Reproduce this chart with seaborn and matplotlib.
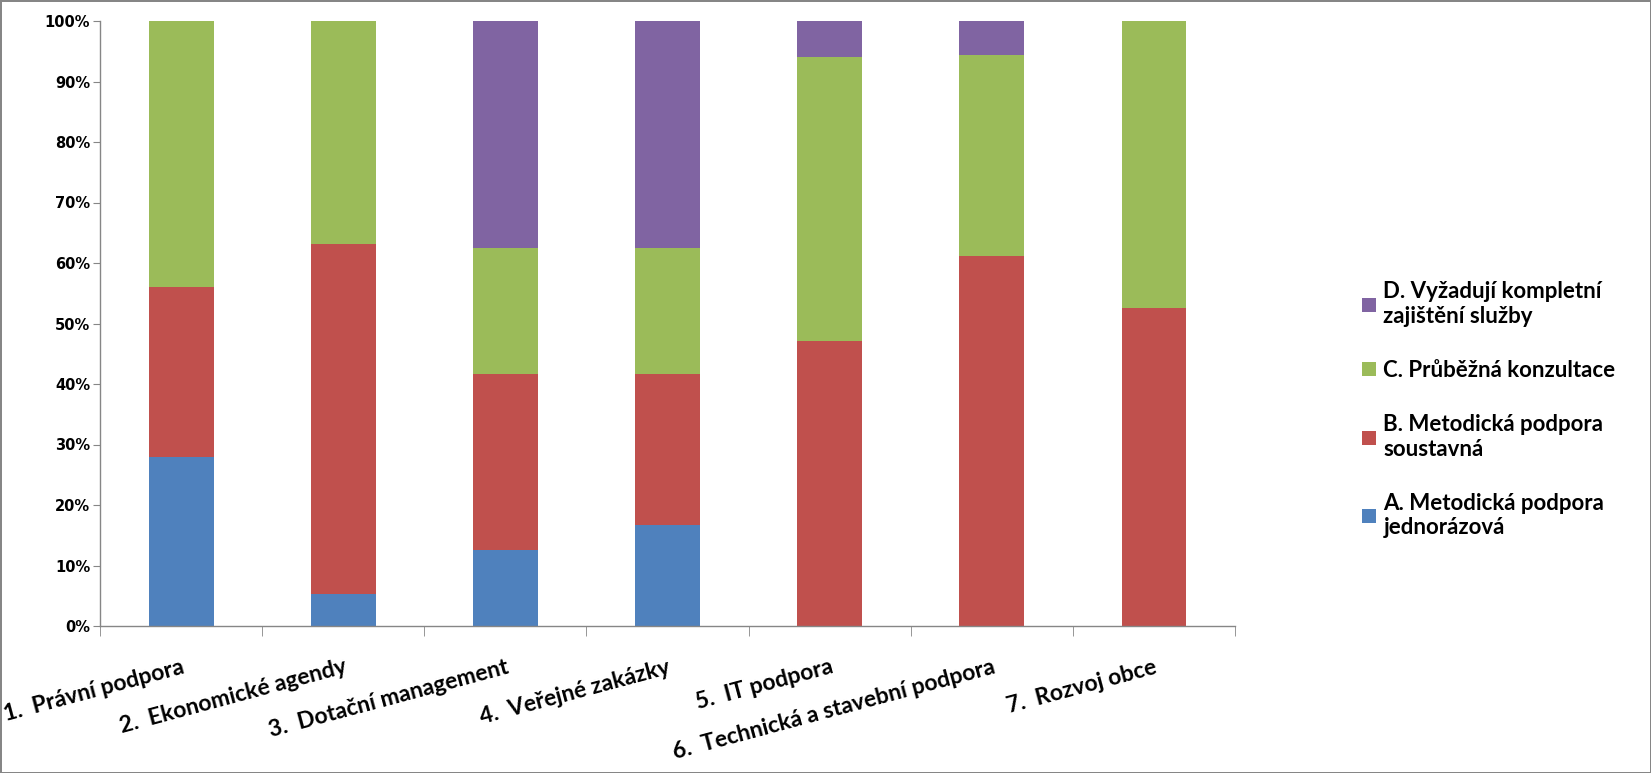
import numpy as np
import pandas as pd
import matplotlib
matplotlib.use("Agg")
import matplotlib.pyplot as plt
from matplotlib.patches import Patch
import seaborn as sns

# Data (shares in %)
categories = ['1.  Právní podpora', '2.  Ekonomické agendy', '3.  Dotační management',
              '4.  Veřejné zakázky', '5.  IT podpora', '6.  Technická a stavební podpora',
              '7.  Rozvoj obce']
a_jednorazova = [28.0, 5.3, 12.5, 16.7, 0.0, 0.0, 0.0]
b_soustavna = [28.0, 57.9, 29.2, 25.0, 47.1, 61.1, 52.6]
c_konzultace = [44.0, 36.8, 20.8, 20.8, 47.0, 33.3, 47.4]
d_kompletni = [0.0, 0.0, 37.5, 37.5, 5.9, 5.6, 0.0]

series_names = ['A. Metodická podpora\njednorázová', 'B. Metodická podpora\nsoustavná',
                'C. Průběžná konzultace', 'D. Vyžadují kompletní\nzajištění služby']
series_colors = ['#4F81BD', '#C0504D', '#9BBB59', '#8064A2']
y_ticks = [0, 10, 20, 30, 40, 50, 60, 70, 80, 90, 100]

# Stack the series: draw cumulative totals from the top down
stack = np.array([a_jednorazova, b_soustavna, c_konzultace, d_kompletni])
cum = stack.cumsum(axis=0)
df = pd.DataFrame({'kategorie': categories})

fig = plt.figure(figsize=(16.51, 7.73), dpi=100)
ax = fig.add_axes([100 / 1651, 1 - 626 / 773, 1135 / 1651, 605 / 773])

for i in range(3, -1, -1):
    df['hodnota'] = cum[i]
    sns.barplot(data=df, x='kategorie', y='hodnota', color=series_colors[i],
                saturation=1, width=0.4, ax=ax, linewidth=0)

ax.set_xlim(-0.5, 6.5)
ax.set_ylim(0, 100)
ax.set_xlabel('')
ax.set_ylabel('')

# Axes styling
for side in ['top', 'right']:
    ax.spines[side].set_visible(False)
for side in ['left', 'bottom']:
    ax.spines[side].set_color('#868686')
    ax.spines[side].set_linewidth(1)

ax.set_yticks(y_ticks)
ax.set_yticklabels([f'{v}%' for v in y_ticks], fontsize=10.5, fontweight='bold',
                   family='DejaVu Sans')
ax.tick_params(axis='y', length=5, color='#868686', pad=2)

ax.set_xticks(np.arange(len(categories)))
ax.set_xticklabels(categories, rotation=15, ha='right', va='top', rotation_mode='anchor',
                   fontsize=16.5, fontweight='bold', family='Lato')
ax.tick_params(axis='x', which='major', length=0, pad=22)
ax.set_xticks(np.arange(len(categories) + 1) - 0.5, minor=True)
ax.tick_params(axis='x', which='minor', length=7, color='#868686')

# Legend (reversed order like the original)
handles = [Patch(facecolor=series_colors[i], edgecolor='none') for i in range(3, -1, -1)]
labels = [series_names[i] for i in range(3, -1, -1)]
leg = fig.legend(handles, labels, loc='upper left', bbox_to_anchor=(0.813, 0.662),
                 frameon=False, handlelength=0.6, handleheight=0.6, handletextpad=0.35,
                 labelspacing=1.5, prop={'family': 'Lato', 'weight': 'bold', 'size': 16})

# Outer frame around the chart
fig.patch.set_edgecolor('#868686')
fig.patch.set_linewidth(2)

fig.savefig('out.png', dpi=100, edgecolor=fig.patch.get_edgecolor())
